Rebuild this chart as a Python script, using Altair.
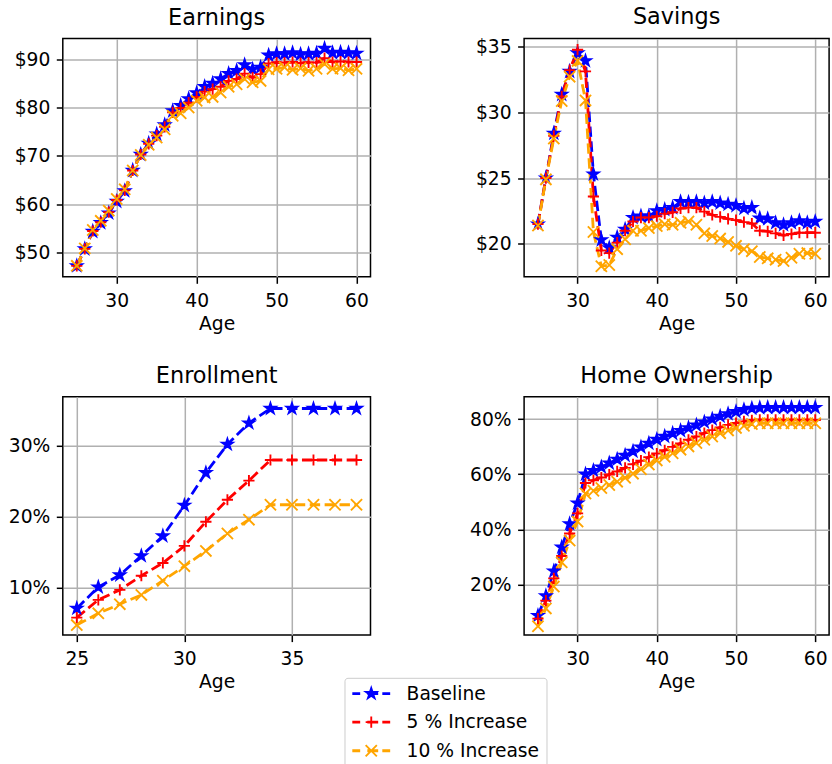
import math

import altair as alt
import pandas as pd

# ---- data -----------------------------------------------------------------
ages = list(range(25, 61))
enroll_ages = list(range(25, 39))
series = ["Baseline", "5 % Increase", "10 % Increase"]
colors = ["blue", "red", "orange"]

earn_base = [47.3, 50.8, 54.4, 56.2, 58.2, 60.6, 62.8, 67.0, 70.3, 72.6, 74.5, 76.4,
             79.3, 80.4, 81.8, 83.0, 84.3, 85.0, 85.9, 87.0, 87.6, 88.8, 87.9, 88.3,
             90.8, 91.1, 91.1, 91.3, 91.0, 91.1, 91.2, 92.2, 91.3, 91.4, 91.3, 91.2]
earn_5 = [47.3, 50.8, 54.5, 56.3, 58.4, 60.9, 62.9, 67.0, 70.3, 72.5, 74.2, 76.0,
          79.0, 79.9, 81.0, 82.2, 83.3, 83.8, 84.3, 85.5, 85.9, 87.0, 86.2, 86.9,
          89.1, 89.3, 89.3, 89.4, 89.2, 89.3, 89.3, 90.2, 89.4, 89.5, 89.4, 89.4]
earn_10 = [47.3, 50.9, 54.7, 56.6, 58.7, 61.1, 63.1, 67.0, 70.2, 72.3, 73.8, 75.5,
           78.3, 78.8, 80.0, 81.4, 82.1, 82.2, 83.1, 84.3, 84.8, 85.9, 85.2, 85.5,
           87.9, 88.0, 88.3, 87.8, 88.1, 87.6, 88.0, 89.0, 88.0, 88.1, 87.7, 88.0]

sav_base = [21.5, 25.0, 28.4, 31.35, 33.1, 34.5, 33.9, 25.3, 20.3, 19.7, 20.5, 21.1,
            22.0, 22.1, 22.1, 22.5, 22.6, 22.75, 23.2, 23.15, 23.2, 23.1, 23.2, 23.1,
            23.0, 22.9, 22.7, 22.75, 21.95, 21.9, 21.6, 21.45, 21.6, 21.75, 21.6, 21.7]
sav_5 = [21.5, 25.0, 28.2, 31.2, 33.2, 34.75, 33.1, 23.6, 19.5, 19.3, 20.1, 21.0,
         21.7, 22.0, 22.0, 22.1, 22.3, 22.4, 22.7, 22.75, 22.75, 22.45, 22.2, 22.05,
         21.9, 21.8, 21.65, 21.55, 21.0, 20.95, 20.8, 20.65, 20.75, 20.85, 20.85, 20.85]
sav_10 = [21.4, 24.9, 28.0, 30.85, 32.7, 33.9, 30.9, 20.9, 18.3, 18.4, 19.6, 20.35,
          21.0, 21.0, 21.2, 21.35, 21.5, 21.45, 21.6, 21.7, 21.45, 20.8, 20.6, 20.4,
          20.15, 19.85, 19.6, 19.45, 19.0, 18.9, 18.8, 18.7, 18.95, 19.25, 19.3, 19.25]

enr_base = [7.1, 10.1, 11.8, 14.5, 17.3, 21.6, 26.2, 30.2, 33.2, 35.25, 35.25, 35.25, 35.25, 35.25]
enr_5 = [5.8, 8.3, 9.7, 11.7, 13.5, 15.9, 19.3, 22.4, 25.1, 28.0, 28.0, 28.0, 28.0, 28.0]
enr_10 = [4.75, 6.4, 7.7, 9.0, 11.0, 13.05, 15.2, 17.65, 19.6, 21.7, 21.7, 21.7, 21.7, 21.7]

home_base = [8.7, 15.8, 24.8, 33.5, 42.0, 49.5, 60.0, 61.3, 62.6, 64.0, 65.4, 66.8,
             68.3, 69.8, 71.2, 72.6, 73.7, 74.8, 75.8, 76.8, 77.8, 78.9, 80.0, 81.0,
             81.9, 82.7, 83.4, 83.9, 84.1, 84.2, 84.2, 84.2, 84.2, 84.2, 84.2, 84.2]
home_5 = [7.6, 14.1, 22.2, 30.3, 38.5, 45.8, 56.8, 57.8, 58.8, 59.9, 61.0, 62.3,
          63.6, 64.9, 66.2, 67.5, 68.7, 69.9, 71.2, 72.5, 73.7, 74.9, 76.0, 77.0,
          77.9, 78.6, 79.2, 79.6, 79.7, 79.7, 79.7, 79.7, 79.7, 79.7, 79.7, 79.7]
home_10 = [4.8, 11.3, 19.2, 28.0, 35.9, 42.8, 53.0, 54.0, 55.0, 56.1, 57.3, 58.7,
           60.2, 61.8, 63.5, 65.0, 66.3, 67.6, 68.9, 70.1, 71.3, 72.5, 73.7, 74.9,
           75.9, 76.8, 77.6, 78.2, 78.5, 78.5, 78.5, 78.5, 78.5, 78.5, 78.5, 78.5]


def long_table(x, *cols):
    rows = []
    for name, values in zip(series, cols):
        for a, v in zip(x, values):
            rows.append({"age": a, "value": v, "series": name})
    return pd.DataFrame(rows)


# ---- marker shapes (SVG paths in unit space) ------------------------------
def star_path(r=1.0, inner=0.381966):
    pts = []
    for k in range(10):
        rad = r if k % 2 == 0 else r * inner
        ang = math.radians(-90 + 36 * k)
        pts.append(f"{rad * math.cos(ang):.4f},{rad * math.sin(ang):.4f}")
    return "M" + "L".join(pts) + "Z"


def plus_path(r=1.0):
    return f"M{-r},0L{r},0M0,{-r}L0,{r}"


def cross_path(r=1.0):
    return f"M{-r},{-r}L{r},{r}M{-r},{r}L{r},{-r}"


marker_paths = [star_path(), plus_path(), cross_path()]
marker_filled = [True, False, False]

# legend handle: dashed line pieces with the marker in the middle
# (one unit = 5 px because the legend symbol size is 100)
h = 0.093
dashes = (f"M-3.6,{-h}L-2.4,{-h}L-2.4,{h}L-3.6,{h}Z"
          f"M-0.6,{-h}L1.2,{-h}L1.2,{h}L-0.6,{h}Z"
          f"M2.4,{-h}L3.6,{-h}L3.6,{h}L2.4,{h}Z")
legend_paths = [dashes + star_path(1.12), dashes + plus_path(1.12), dashes + cross_path(1.12)]

legend = alt.Legend(
    title=None,
    orient="none",
    legendX=281.7,
    legendY=639.3,
    symbolSize=100,
    symbolStrokeWidth=1.87,
    symbolOpacity=1,
    symbolOffset=11,
    labelOffset=26,
    labelFontSize=18.7,
    labelFont="DejaVu Sans",
    labelColor="black",
    rowPadding=8.6,
    padding=6.4,
    fillColor="rgba(255,255,255,0.8)",
    strokeColor="#cccccc",
    cornerRadius=3,
)

color_scale = alt.Scale(domain=series, range=colors)


def panel(df, title, x_domain, x_ticks, y_domain, y_ticks, y_labels, width, height):
    x = alt.X("age:Q", scale=alt.Scale(domain=x_domain, nice=False, zero=False),
              axis=alt.Axis(values=x_ticks, title="Age", format="d"))
    y = alt.Y("value:Q", scale=alt.Scale(domain=y_domain, nice=False, zero=False),
              axis=alt.Axis(values=y_ticks, title=None, labelExpr=y_labels))
    base = alt.Chart(df).encode(x=x, y=y)

    lines, points = [], []
    for name, path, filled, col in zip(series, marker_paths, marker_filled, colors):
        one = base.transform_filter(alt.datum.series == name)
        lines.append(one.mark_line(strokeDash=[10.4, 4.5], strokeWidth=2.8, color=col))
        props = dict(shape=path, size=125, strokeWidth=1.87, opacity=1, stroke=col,
                     filled=filled)
        if filled:
            props["fill"] = col
        points.append(one.mark_point(**props))
    # entries for the shared legend (no marks drawn)
    key = base.transform_filter("false").mark_point(filled=True, size=100, opacity=1).encode(
        fill=alt.Fill("series:N", scale=color_scale, legend=legend, sort=series),
        stroke=alt.Stroke("series:N", scale=color_scale, legend=legend, sort=series),
        shape=alt.Shape("series:N", scale=alt.Scale(domain=series, range=legend_paths),
                        legend=legend, sort=series),
    )
    return alt.layer(*lines, *points, key).properties(title=title, width=width, height=height)


dollar = "'$' + format(datum.value, 'd')"
percent = "format(datum.value, 'd') + '%'"

earnings = panel(long_table(ages, earn_base, earn_5, earn_10), "Earnings",
                 [23.25, 61.75], [30, 40, 50, 60], [45.04, 94.26], [50, 60, 70, 80, 90],
                 dollar, 307.7, 238.3)
savings = panel(long_table(ages, sav_base, sav_5, sav_10), "Savings",
                [23.25, 61.75], [30, 40, 50, 60], [17.5, 35.6], [20, 25, 30, 35],
                dollar, 305, 238.3)
enrollment = panel(long_table(enroll_ages, enr_base, enr_5, enr_10), "Enrollment",
                   [24.35, 38.65], [25, 30, 35], [3.34, 36.9], [10, 20, 30],
                   percent, 307.7, 238.3)
home = panel(long_table(ages, home_base, home_5, home_10), "Home Ownership",
             [23.25, 61.75], [30, 40, 50, 60], [1.6, 88.1], [20, 40, 60, 80],
             percent, 305, 238.3)

chart = alt.concat(
    earnings, savings, enrollment, home,
    columns=2,
    spacing={"row": 119.3, "column": 153.3},
    bounds="flush",
).properties(
    padding={"left": 6.8, "top": 4.5, "right": 0, "bottom": 0},
).configure(
    font="DejaVu Sans",
).configure_view(
    stroke="black", strokeWidth=1.5,
).configure_axis(
    labelFont="DejaVu Sans", labelFontSize=18.7, labelColor="black",
    tickColor="black", tickSize=6.5, tickWidth=1.5, domain=False,
    gridColor="#b0b0b0", gridWidth=1.5, gridOpacity=1,
    titleFont="DejaVu Sans", titleFontSize=18.7, titleFontWeight="normal", titleColor="black",
).configure_axisX(
    labelPadding=8, titlePadding=4,
).configure_axisY(
    labelPadding=6.5,
).configure_title(
    font="DejaVu Sans", fontSize=22.4, fontWeight="normal", color="black", offset=9,
    anchor="middle",
)

chart.save("out.html", embed_options={"renderer": "svg", "actions": False})
